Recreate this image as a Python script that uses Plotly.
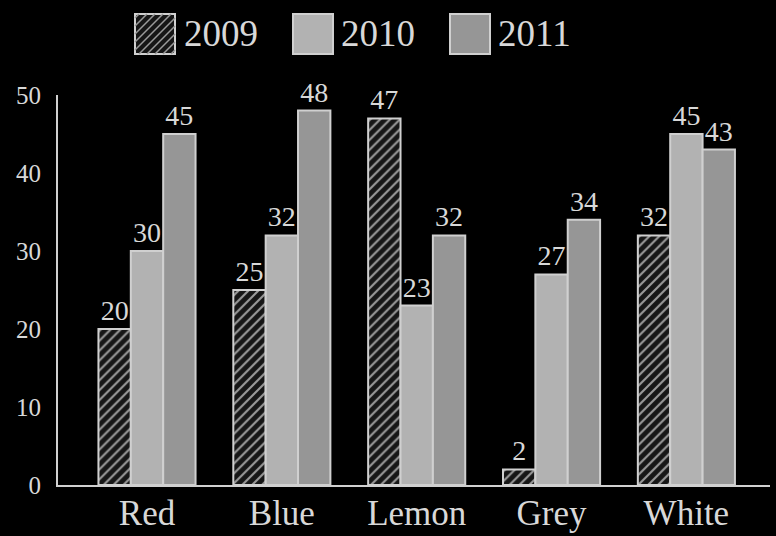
import plotly.graph_objects as go

categories = ["Red", "Blue", "Lemon", "Grey", "White"]
years = ["2009", "2010", "2011"]
v2009 = [20, 25, 47, 2, 32]
v2010 = [30, 32, 23, 27, 45]
v2011 = [45, 48, 32, 34, 43]
y_ticks = [0, 10, 20, 30, 40, 50]

FONT = "Liberation Serif"
TXT = "#d8d8d8"
EDGE = "#d0d0d0"
C2010 = "#b2b2b2"
C2011 = "#969696"
HATCH_BG = "#161616"
HATCH_FG = "#9a9a9a"

W, H = 776, 536
L, R, T, B = 58, 6, 95, 51
PW, PH = W - L - R, H - T - B


def px(x):
    return (x - L) / PW


def py(y):
    return (H - B - y) / PH


fig = go.Figure()
fig.add_bar(x=categories, y=v2009, name="2009", text=v2009,
            marker=dict(color=HATCH_BG, line=dict(color=EDGE, width=2),
                        pattern=dict(shape="/", fgcolor=HATCH_FG, bgcolor=HATCH_BG,
                                     size=7, solidity=0.3, fillmode="replace")))
fig.add_bar(x=categories, y=v2010, name="2010", text=v2010,
            marker=dict(color=C2010, line=dict(color=EDGE, width=2)))
fig.add_bar(x=categories, y=v2011, name="2011", text=v2011,
            marker=dict(color=C2011, line=dict(color=EDGE, width=2)))
fig.update_traces(textposition="outside", cliponaxis=False, hoverinfo="skip",
                  textfont=dict(family=FONT, size=28, color=TXT))

# manual legend
shapes = []
annotations = []
box_x = [135, 293, 450]
label_x = [182, 339, 496]
fills = [HATCH_BG, C2010, C2011]
by0, by1 = 14, 54
for i, yr in enumerate(years):
    x0 = box_x[i]
    x1 = x0 + 40
    shapes.append(dict(type="rect", xref="paper", yref="paper",
                       x0=px(x0), x1=px(x1), y0=py(by1), y1=py(by0),
                       fillcolor=fills[i], line=dict(color=EDGE, width=2), layer="above"))
    if i == 0:
        path = ""
        step = 8
        size = 40
        d = -size + 4
        while d < size:
            xa, xb = (d if d > 0 else 0), (size if d > 0 else size + d)
            ya, yb = xa - d, xb - d
            if xb - xa > 1:
                path += f"M{px(x0 + xa)},{py(by1 - ya)} L{px(x0 + xb)},{py(by1 - yb)} "
            d += step
        shapes.append(dict(type="path", xref="paper", yref="paper", path=path,
                           line=dict(color=HATCH_FG, width=1.5), layer="above"))
    annotations.append(dict(xref="paper", yref="paper", x=px(label_x[i]), y=py(34),
                            text=yr, showarrow=False, xanchor="left", yanchor="middle",
                            font=dict(family=FONT, size=37, color=TXT)))

fig.update_layout(
    width=W, height=H,
    margin=dict(l=L, r=R, t=T, b=B, pad=0, autoexpand=False),
    paper_bgcolor="black", plot_bgcolor="black",
    barmode="group", bargap=0.28, bargroupgap=0,
    showlegend=False, hovermode=False,
    shapes=shapes, annotations=annotations,
    font=dict(family=FONT, color=TXT),
    xaxis=dict(range=[-0.66, 4.62], showline=True, linecolor=EDGE, linewidth=2,
               showgrid=False, ticks="", automargin=False, ticklabelstandoff=-4,
               tickfont=dict(family=FONT, size=35, color=TXT), zeroline=False),
    yaxis=dict(range=[0, 50], tickvals=y_ticks, showline=True, linecolor=EDGE, linewidth=2,
               showgrid=False, ticks="", zeroline=False, ticklabelstandoff=10, automargin=False,
               tickfont=dict(family=FONT, size=25, color=TXT)),
)

fig.write_html("out.html", config={"displayModeBar": False},
               post_script="document.body.style.margin='0';")
